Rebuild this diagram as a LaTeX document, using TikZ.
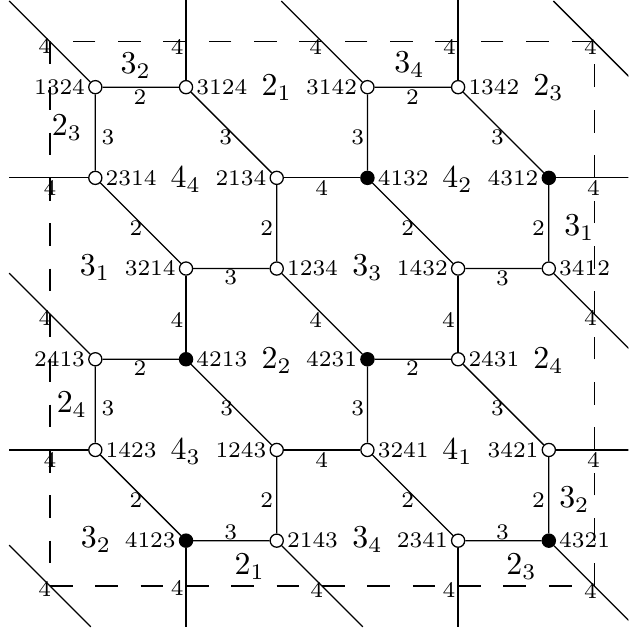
\documentclass[tikz,border=0pt]{standalone}
\begin{document}
\begin{tikzpicture}[x=1cm,y=1cm,
  vtx/.style={circle,draw,fill=white,inner sep=0pt,minimum size=0.145cm,line width=0.4pt},
  vfill/.style={vtx,fill=black},
  nl/.style={font=\scriptsize,inner sep=0.8pt},
  el/.style={font=\scriptsize,inner sep=0pt},
  rl/.style={inner sep=0pt},
  bnd/.style={line width=0.4pt,dash pattern=on 0.25cm off 0.25cm},
  ln/.style={line width=0.4pt}]
\useasboundingbox (-0.551,-0.507) rectangle (6.377,6.461);
\clip (-0.551,-0.507) rectangle (6.377,6.461);

% fundamental domain
\coordinate (b0) at (0,0);
\coordinate (b1) at (6,0);
\coordinate (b2) at (6,6);
\coordinate (b3) at (0,6);
\draw[bnd] (b0) -- (b1) -- (b2) -- (b3) -- cycle;

% vertices
\node[vtx,label={[nl]left:1324}]  (n1324) at (0.5,5.5) {};
\node[vtx,label={[nl]right:3124}] (n3124) at (1.5,5.5) {};
\node[vtx,label={[nl]left:3142}]  (n3142) at (3.5,5.5) {};
\node[vtx,label={[nl]right:1342}] (n1342) at (4.5,5.5) {};
\node[vtx,label={[nl]right:2314}] (n2314) at (0.5,4.5) {};
\node[vtx,label={[nl]left:2134}]  (n2134) at (2.5,4.5) {};
\node[vfill,label={[nl]right:4132}] (n4132) at (3.5,4.5) {};
\node[vfill,label={[nl]left:4312}]  (n4312) at (5.5,4.5) {};
\node[vtx,label={[nl]left:3214}]  (n3214) at (1.5,3.5) {};
\node[vtx,label={[nl]right:1234}] (n1234) at (2.5,3.5) {};
\node[vtx,label={[nl]left:1432}]  (n1432) at (4.5,3.5) {};
\node[vtx,label={[nl]right:3412}] (n3412) at (5.5,3.5) {};
\node[vtx,label={[nl]left:2413}]  (n2413) at (0.5,2.5) {};
\node[vfill,label={[nl]right:4213}] (n4213) at (1.5,2.5) {};
\node[vfill,label={[nl]left:4231}]  (n4231) at (3.5,2.5) {};
\node[vtx,label={[nl]right:2431}] (n2431) at (4.5,2.5) {};
\node[vtx,label={[nl]right:1423}] (n1423) at (0.5,1.5) {};
\node[vtx,label={[nl]left:1243}]  (n1243) at (2.5,1.5) {};
\node[vtx,label={[nl]right:3241}] (n3241) at (3.5,1.5) {};
\node[vtx,label={[nl]left:3421}]  (n3421) at (5.5,1.5) {};
\node[vfill,label={[nl]left:4123}]  (n4123) at (1.5,0.5) {};
\node[vtx,label={[nl]right:2143}] (n2143) at (2.5,0.5) {};
\node[vtx,label={[nl]left:2341}]  (n2341) at (4.5,0.5) {};
\node[vfill,label={[nl]right:4321}] (n4321) at (5.5,0.5) {};

% hexagon edges
\draw[ln] (n1324) -- (n3124) -- (n2134) -- (n1234) -- (n3214) -- (n2314) -- (n1324);
\draw[ln] (n3142) -- (n1342) -- (n4312) -- (n3412) -- (n1432) -- (n4132) -- (n3142);
\draw[ln] (n2413) -- (n4213) -- (n1243) -- (n2143) -- (n4123) -- (n1423) -- (n2413);
\draw[ln] (n4231) -- (n2431) -- (n3421) -- (n4321) -- (n2341) -- (n3241) -- (n4231);
% connecting edges
\draw[ln] (n2134) -- (n4132);
\draw[ln] (n3214) -- (n4213);
\draw[ln] (n1234) -- (n4231);
\draw[ln] (n1432) -- (n2431);
\draw[ln] (n1243) -- (n3241);

% stubs crossing the boundary
\coordinate (s1) at (-0.45,6.45);
\coordinate (s2) at (1.5,6.5);
\coordinate (s3) at (2.55,6.45);
\coordinate (s4) at (4.5,6.5);
\coordinate (s5) at (-0.45,4.5);
\coordinate (s6) at (-0.45,3.45);
\coordinate (s7) at (-0.45,1.5);
\coordinate (s8) at (6.45,4.5);
\coordinate (s9) at (6.45,2.55);
\coordinate (s10) at (6.45,1.5);
\coordinate (s11) at (6.45,-0.45);
\coordinate (s12) at (1.5,-0.45);
\coordinate (s13) at (3.45,-0.45);
\coordinate (s14) at (4.5,-0.45);
\draw[ln] (n1324) -- (s1);
\draw[ln] (n3124) -- (s2);
\draw[ln] (n3142) -- (s3);
\draw[ln] (n1342) -- (s4);
\draw[ln] (n2314) -- (s5);
\draw[ln] (n2413) -- (s6);
\draw[ln] (n1423) -- (s7);
\draw[ln] (n4312) -- (s8);
\draw[ln] (n3412) -- (s9);
\draw[ln] (n3421) -- (s10);
\draw[ln] (n4321) -- (s11);
\draw[ln] (n4123) -- (s12);
\draw[ln] (n2143) -- (s13);
\draw[ln] (n2341) -- (s14);
% corner copies
\coordinate (c1) at (5.55,6.45);
\coordinate (c2) at (6.45,5.55);
\coordinate (c3) at (-0.45,0.45);
\coordinate (c4) at (0.45,-0.45);
\draw[ln] (c1) -- (c2);
\draw[ln] (c3) -- (c4);

% edge labels
\node[el] (e1) at (0.991,5.391) {2};
\node[el] (e2) at (0.639,4.950) {3};
\node[el] (e3) at (1.938,4.950) {3};
\node[el] (e4) at (0.947,3.947) {2};
\node[el] (e5) at (2.390,3.947) {2};
\node[el] (e6) at (1.993,3.407) {3};
\node[el] (e7) at (2.996,4.388) {4};
\node[el] (e8) at (3.998,5.391) {2};
\node[el] (e9) at (3.392,4.950) {3};
\node[el] (e10) at (4.934,4.950) {3};
\node[el] (e11) at (3.943,3.947) {2};
\node[el] (e12) at (5.385,3.947) {2};
\node[el] (e13) at (4.989,3.396) {3};
\node[el] (e14) at (1.399,2.933) {4};
\node[el] (e15) at (2.930,2.933) {4};
\node[el] (e16) at (4.394,2.933) {4};
\node[el] (e17) at (0.991,2.404) {2};
\node[el] (e18) at (0.639,1.963) {3};
\node[el] (e19) at (1.949,1.963) {3};
\node[el] (e20) at (0.947,0.948) {2};
\node[el] (e21) at (2.390,0.948) {2};
\node[el] (e22) at (1.993,0.595) {3};
\node[el] (e23) at (3.998,2.404) {2};
\node[el] (e24) at (3.392,1.963) {3};
\node[el] (e25) at (4.934,1.963) {3};
\node[el] (e26) at (2.996,1.389) {4};
\node[el] (e27) at (3.943,0.948) {2};
\node[el] (e28) at (5.385,0.948) {2};
\node[el] (e29) at (4.989,0.595) {3};

% boundary labels
\node[el] (f1) at (-0.058,5.950) {4};
\node[el] (f2) at (1.404,5.946) {4};
\node[el] (f3) at (2.930,5.946) {4};
\node[el] (f4) at (4.405,5.940) {4};
\node[el] (f5) at (5.958,5.940) {4};
\node[el] (f6) at (0.0,4.388) {4};
\node[el] (f7) at (-0.055,2.955) {4};
\node[el] (f8) at (0.0,1.389) {4};
\node[el] (f9) at (-0.058,-0.035) {4};
\node[el] (f10) at (5.991,4.388) {4};
\node[el] (f11) at (5.958,2.955) {4};
\node[el] (f12) at (5.991,1.389) {4};
\node[el] (f13) at (5.958,-0.060) {4};
\node[el] (f14) at (1.404,-0.020) {4};
\node[el] (f15) at (2.940,-0.040) {4};
\node[el] (f16) at (4.400,-0.040) {4};

% region labels
\node[rl] (r1) at (0.947,5.733) {$3_2$};
\node[rl] (r2) at (2.5,5.49) {$2_1$};
\node[rl] (r3) at (0.187,5.05) {$2_3$};
\node[rl] (r4) at (1.498,4.476) {$4_4$};
\node[rl] (r5) at (0.496,3.506) {$3_1$};
\node[rl] (r6) at (3.965,5.744) {$3_4$};
\node[rl] (r7) at (5.496,5.49) {$2_3$};
\node[rl] (r8) at (4.493,4.476) {$4_2$};
\node[rl] (r9) at (5.837,3.947) {$3_1$};
\node[rl] (r10) at (3.502,3.506) {$3_3$};
\node[rl] (r11) at (2.5,2.481) {$2_2$};
\node[rl] (r12) at (0.242,1.996) {$2_4$};
\node[rl] (r13) at (1.498,1.477) {$4_3$};
\node[rl] (r14) at (0.507,0.507) {$3_2$};
\node[rl] (r15) at (2.203,0.209) {$2_1$};
\node[rl] (r16) at (5.496,2.481) {$2_4$};
\node[rl] (r17) at (4.493,1.477) {$4_1$};
\node[rl] (r18) at (5.782,0.948) {$3_2$};
\node[rl] (r19) at (3.502,0.507) {$3_4$};
\node[rl] (r20) at (5.198,0.209) {$2_3$};
\end{tikzpicture}
\end{document}
